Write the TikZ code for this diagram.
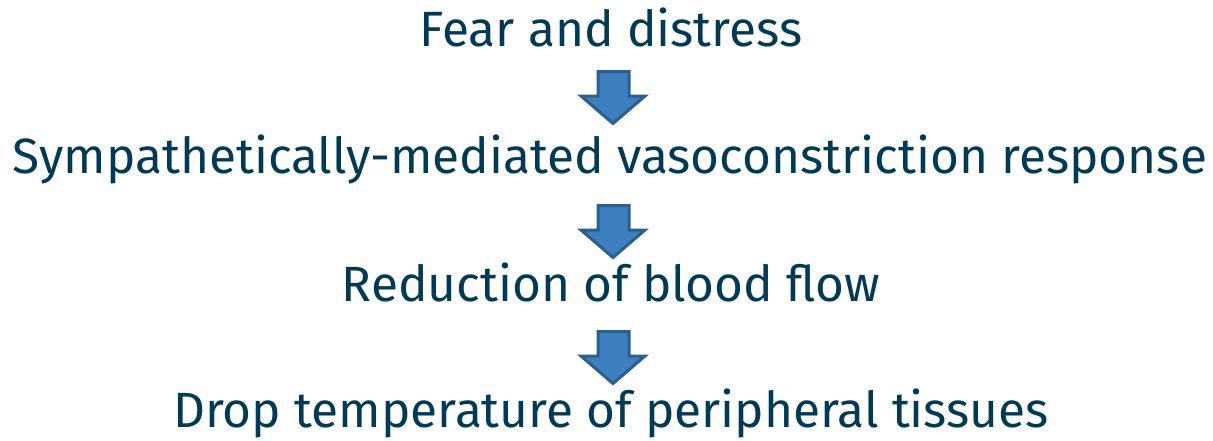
\documentclass[tikz,border=0pt]{standalone}
\usepackage{fontspec}
\setmainfont{Fira Sans}
\definecolor{txt}{HTML}{003A57}
\definecolor{arrfill}{HTML}{3D80C0}
\definecolor{arrdraw}{HTML}{2B5F8E}
\begin{document}
\begin{tikzpicture}[x=1pt,y=-1pt,
  label/.style={text=txt,font=\fontsize{49.6}{52}\selectfont,inner sep=0pt,anchor=base},
  blockarrow/.style={fill=arrfill,draw=arrdraw,line width=3pt,line join=miter}]
\useasboundingbox (0,0) rectangle (1213,440);
\node[label] (t1) at (611,46) {Fear and distress};
\node[label] (t2) at (610,173) {Sympathetically-mediated vasoconstriction response};
\node[label] (t3) at (611,301) {Reduction of blood flow};
\node[label] (t4) at (611,427) {Drop temperature of peripheral tissues};
\foreach \y in {71.5,205.5,331.5}{
  \draw[blockarrow] (598,\y) -- (629,\y) -- (629,\y+24.5) -- (645,\y+24.5) -- (613,\y+52) -- (581,\y+24.5) -- (598,\y+24.5) -- cycle;
}
\end{tikzpicture}
\end{document}
